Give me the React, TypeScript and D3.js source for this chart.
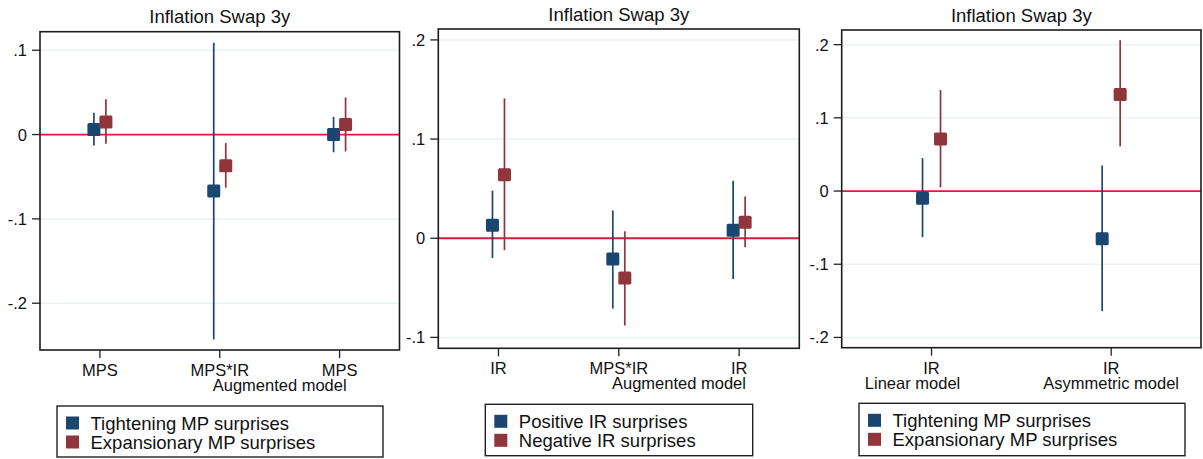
import React from "react";
import * as d3 from "d3";

const W = 1203;
const H = 459;
const FONT = "'Liberation Sans', Arial, sans-serif";
const BLUE = "#1a476f";
const RED = "#90353b";
const ZERO = "#d81b40";
const GRID = "#eaf2f3";

const chartTitle = "Inflation Swap 3y";

// panel 1: MPS, augmented model
const p1Categories = ["MPS", "MPS*IR", "MPS"];
const p1Groups = [{ text: "Augmented model", from: 1, to: 2 }];
const p1Yticks = [0.1, 0, -0.1, -0.2];
const p1Domain = [-0.2555, 0.122];
const p1Tight = [0.006, -0.067, 0.0];
const p1TightLo = [-0.013, -0.243, -0.021];
const p1TightHi = [0.026, 0.109, 0.021];
const p1Expan = [0.015, -0.037, 0.012];
const p1ExpanLo = [-0.011, -0.063, -0.02];
const p1ExpanHi = [0.042, -0.01, 0.044];
const p1Legend = ["Tightening MP surprises", "Expansionary MP surprises"];

// panel 2: IR, augmented model
const p2Categories = ["IR", "MPS*IR", "IR"];
const p2Groups = [{ text: "Augmented model", from: 1, to: 2 }];
const p2Yticks = [0.2, 0.1, 0, -0.1];
const p2Domain = [-0.111, 0.211];
const p2Pos = [0.013, -0.021, 0.008];
const p2PosLo = [-0.02, -0.071, -0.041];
const p2PosHi = [0.048, 0.028, 0.058];
const p2Neg = [0.064, -0.04, 0.016];
const p2NegLo = [-0.012, -0.088, -0.009];
const p2NegHi = [0.141, 0.007, 0.042];
const p2Legend = ["Positive IR surprises", "Negative IR surprises"];

// panel 3: IR, linear vs asymmetric
const p3Categories = ["IR", "IR"];
const p3Groups = [
  { text: "Linear model", from: 0, to: 0 },
  { text: "Asymmetric model", from: 1, to: 1 },
];
const p3Yticks = [0.2, 0.1, 0, -0.1, -0.2];
const p3Domain = [-0.214, 0.22];
const p3Tight = [-0.01, -0.065];
const p3TightLo = [-0.063, -0.164];
const p3TightHi = [0.045, 0.035];
const p3Expan = [0.071, 0.132];
const p3ExpanLo = [0.005, 0.061];
const p3ExpanHi = [0.138, 0.206];
const p3Legend = ["Tightening MP surprises", "Expansionary MP surprises"];

const fmt = (v: number) => {
  if (v === 0) return "0";
  const s = String(Math.abs(+v.toFixed(3))).replace(/^0/, "");
  return (v < 0 ? "-" : "") + s;
};

const panels = [
  {
    box: { l: 40, r: 399.5, t: 31.7, b: 350 },
    offset: 6,
    groupDx: [0],
    legendBox: { x: 57, y: 406, w: 326, h: 51 },
    categories: p1Categories, groups: p1Groups, yticks: p1Yticks, domain: p1Domain,
    series: [
      { color: BLUE, est: p1Tight, lo: p1TightLo, hi: p1TightHi, side: -1 },
      { color: RED, est: p1Expan, lo: p1ExpanLo, hi: p1ExpanHi, side: 1 },
    ],
    legend: p1Legend,
  },
  {
    box: { l: 438.3, r: 799.3, t: 29, b: 348.3 },
    offset: 6,
    groupDx: [0],
    legendBox: { x: 485.3, y: 404.3, w: 267.4, h: 51.4 },
    categories: p2Categories, groups: p2Groups, yticks: p2Yticks, domain: p2Domain,
    series: [
      { color: BLUE, est: p2Pos, lo: p2PosLo, hi: p2PosHi, side: -1 },
      { color: RED, est: p2Neg, lo: p2NegLo, hi: p2NegHi, side: 1 },
    ],
    legend: p2Legend,
  },
  {
    box: { l: 841.7, r: 1201, t: 30, b: 347.7 },
    offset: 9,
    groupDx: [-19, 0],
    legendBox: { x: 859, y: 403.3, w: 326, h: 52.4 },
    categories: p3Categories, groups: p3Groups, yticks: p3Yticks, domain: p3Domain,
    series: [
      { color: BLUE, est: p3Tight, lo: p3TightLo, hi: p3TightHi, side: -1 },
      { color: RED, est: p3Expan, lo: p3ExpanLo, hi: p3ExpanHi, side: 1 },
    ],
    legend: p3Legend,
  },
];

function Panel({ p }: { p: (typeof panels)[number] }) {
  const { box } = p;
  const idx = p.categories.map((_, i) => String(i));
  const x = d3.scalePoint<string>().domain(idx).range([box.l, box.r]).padding(0.5);
  const y = d3.scaleLinear().domain(p.domain).range([box.b, box.t]);
  const mk = 13;
  const cx = (box.l + box.r) / 2;
  return (
    <g>
      <text x={cx} y={box.t - 8.5} textAnchor="middle" fontSize={18.5} fill="#111">
        {chartTitle}
      </text>
      {p.yticks.map((t) => (
        <g key={"g" + t}>
          {t !== 0 && (
            <line x1={box.l} x2={box.r} y1={y(t)} y2={y(t)} stroke={GRID} strokeWidth={1.5} />
          )}
          <line x1={box.l - 8} x2={box.l} y1={y(t)} y2={y(t)} stroke="#222" strokeWidth={1.3} />
          <text x={box.l - 13} y={y(t) + 6} textAnchor="end" fontSize={16.5} fill="#111">
            {fmt(t)}
          </text>
        </g>
      ))}
      <line x1={box.l} x2={box.r} y1={y(0)} y2={y(0)} stroke={ZERO} strokeWidth={1.8} />
      {p.series.map((s, si) =>
        s.est.map((v, i) => {
          const px = (x(String(i)) as number) + s.side * p.offset;
          return (
            <line key={`ci${si}-${i}`} x1={px} x2={px} y1={y(s.lo[i])} y2={y(s.hi[i])}
              stroke={s.color} strokeWidth={1.7} />
          );
        })
      )}
      {p.series.map((s, si) =>
        s.est.map((v, i) => {
          const px = (x(String(i)) as number) + s.side * p.offset;
          return (
            <rect key={`m${si}-${i}`} x={px - mk / 2} y={y(v) - mk / 2} width={mk} height={mk}
              rx={1.5} fill={s.color} />
          );
        })
      )}
      <rect x={box.l} y={box.t} width={box.r - box.l} height={box.b - box.t}
        fill="none" stroke="#1c1c1c" strokeWidth={1.6} />
      {p.categories.map((c, i) => {
        const px = x(String(i)) as number;
        return (
          <g key={"c" + i}>
            <line x1={px} x2={px} y1={box.b} y2={box.b + 8} stroke="#222" strokeWidth={1.3} />
            <text x={px} y={box.b + 26} textAnchor="middle" fontSize={16.5} fill="#111">{c}</text>
          </g>
        );
      })}
      {p.groups.map((g, i) => {
        const gx = ((x(String(g.from)) as number) + (x(String(g.to)) as number)) / 2 + (p.groupDx[i] || 0);
        return (
          <text key={"gl" + i} x={gx} y={box.b + 41} textAnchor="middle" fontSize={16.5} fill="#111">
            {g.text}
          </text>
        );
      })}
      <rect x={p.legendBox.x} y={p.legendBox.y} width={p.legendBox.w} height={p.legendBox.h}
        fill="none" stroke="#222" strokeWidth={1.4} />
      {p.legend.map((lab, i) => {
        const ly = p.legendBox.y + 17 + i * 19;
        return (
          <g key={"lg" + i}>
            <rect x={p.legendBox.x + 15.5 - mk / 2} y={ly - mk / 2} width={mk} height={mk}
              fill={p.series[i].color} />
            <text x={p.legendBox.x + 33.5} y={ly + 6.5} fontSize={18.5} fill="#111">{lab}</text>
          </g>
        );
      })}
    </g>
  );
}

export default function App() {
  return (
    <>
      <style>{`body{margin:0}`}</style>
      <svg width={W} height={H} style={{ position: "absolute", left: 0, top: 0, fontFamily: FONT }}
        xmlns="http://www.w3.org/2000/svg">
        <rect width={W} height={H} fill="#fff" />
        {panels.map((p, i) => (
          <Panel key={i} p={p} />
        ))}
      </svg>
    </>
  );
}
